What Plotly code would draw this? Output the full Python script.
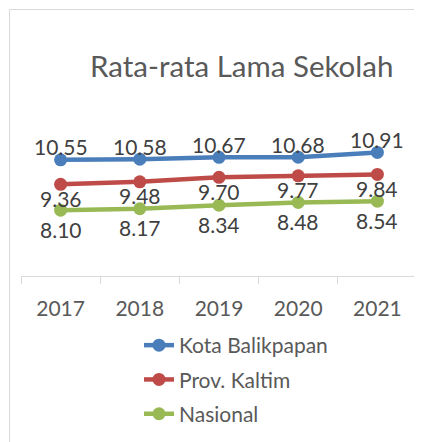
import plotly.graph_objects as go

years = ["2017", "2018", "2019", "2020", "2021"]
series_names = ["Kota Balikpapan", "Prov. Kaltim", "Nasional"]
balikpapan = [10.55, 10.58, 10.67, 10.68, 10.91]
kaltim = [9.36, 9.48, 9.70, 9.77, 9.84]
nasional = [8.10, 8.17, 8.34, 8.48, 8.54]
title_text = "Rata-rata Lama Sekolah"

colors = ["#4A7EBB", "#BE4B48", "#98B954"]
label_shift = [13, -14, -19]
FONT = "Lato, Carlito, Calibri, sans-serif"
TXT = "#595959"

OFF = 8  # page body margin
W, H = 422 - OFF, 442 - OFF
L, R_EDGE, BOT, TOP = 21 - OFF, 417 - OFF, 276 - OFF, 130 - OFF
pw = R_EDGE - L
ph = BOT - TOP

fig = go.Figure()
annotations = []
for i, (name, vals) in enumerate(zip(series_names, [balikpapan, kaltim, nasional])):
    fig.add_trace(go.Scatter(
        x=years, y=vals, name=name, mode="lines+markers",
        line=dict(color=colors[i], width=4.5),
        marker=dict(color=colors[i], size=13),
        legendgroup=name,
    ))
    for j, v in enumerate(vals):
        annotations.append(dict(
            x=j, y=v, xref="x", yref="y", text=f"{v:.2f}", showarrow=False,
            yshift=label_shift[i], font=dict(family=FONT, size=21, color="#404040"),
            yanchor="middle", xanchor="center",
        ))

annotations.append(dict(
    x=(233 - L) / pw, y=(BOT - 57) / ph, xref="paper", yref="paper", text=title_text,
    showarrow=False, xanchor="center", yanchor="middle",
    font=dict(family=FONT, size=29.5, color=TXT),
))

bx = 1.5
shapes = [
    dict(type="line", xref="paper", yref="paper",
         x0=(bx - L) / pw, x1=(bx - L) / pw, y0=(BOT - bx) / ph, y1=(BOT - H) / ph,
         line=dict(color="#D9D9D9", width=1)),
    dict(type="line", xref="paper", yref="paper",
         x0=(bx - L) / pw, x1=(W + 5 - L) / pw, y0=(BOT - bx) / ph, y1=(BOT - bx) / ph,
         line=dict(color="#D9D9D9", width=1)),
]

fig.update_layout(
    width=W, height=H,
    margin=dict(l=L, r=W - R_EDGE, t=TOP, b=H - BOT, pad=0, autoexpand=False),
    paper_bgcolor="white", plot_bgcolor="white",
    showlegend=True,
    legend=dict(
        orientation="v", x=(131 - L) / pw, xanchor="left",
        y=(BOT - 317) / ph, yanchor="top",
        font=dict(family=FONT, size=21, color=TXT),
        traceorder="grouped", tracegroupgap=4,
        bgcolor="rgba(0,0,0,0)",
    ),
    xaxis=dict(
        type="category", range=[-0.5, 4.5], showgrid=False,
        showline=True, linecolor="#D9D9D9", linewidth=1,
        ticks="outside", ticklen=7, tickcolor="#D9D9D9", tickson="boundaries",
        ticklabelstandoff=14,
        tickfont=dict(family=FONT, size=21, color=TXT), zeroline=False,
    ),
    yaxis=dict(range=[4.9, 12.0], showgrid=False, zeroline=False,
               showticklabels=False, showline=False, ticks=""),
    annotations=annotations,
    shapes=shapes,
)

fig.write_html("out.html")
